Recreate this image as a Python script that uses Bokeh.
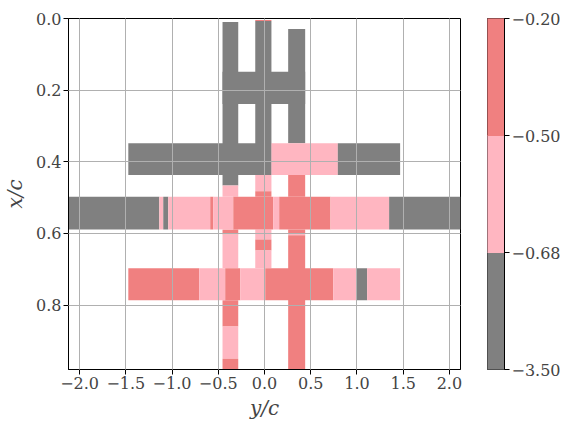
import numpy as np
from bokeh.plotting import figure
from bokeh.layouts import row
from bokeh.models import ColumnDataSource, Range1d, FixedTicker, LinearColorMapper
from bokeh.embed import file_html
from bokeh.resources import INLINE

# colour levels (bin edges) and their labels
levels = [-3.50, -0.68, -0.50, -0.20]
level_labels = ["\u22123.50", "\u22120.68", "\u22120.50", "\u22120.20"]
level_colors = ["#808080", "#ffb6c1", "#f08080"]

# representative values of the three bands
G, P, R = -1.20, -0.60, -0.35

# tick values / labels
xticks = [-2.0, -1.5, -1.0, -0.5, 0.0, 0.5, 1.0, 1.5, 2.0]
xtick_labels = ["\u22122.0", "\u22121.5", "\u22121.0", "\u22120.5", "0.0", "0.5", "1.0", "1.5", "2.0"]
yticks = [0.0, 0.2, 0.4, 0.6, 0.8]
ytick_labels = ["0.0", "0.2", "0.4", "0.6", "0.8"]

# horizontal strips: x/c extent, y/c edges, values
cross_xc = [0.149, 0.239]
cross_edges = [-0.454, 0.440]
cross_vals = [G]

bar1_xc = [0.348, 0.437]
bar1_edges = [-1.473, 0.075, 0.793, 1.467]
bar1_vals = [G, P, G]

bar2_xc = [0.498, 0.589]
bar2_edges = [-2.12, -1.138, -1.095, -1.041, -0.587, -0.554, -0.338, 0.094, 0.159, 0.714, 1.348, 2.12]
bar2_vals = [G, P, G, P, R, P, R, P, R, P, G]

bar3_xc = [0.697, 0.787]
bar3_edges = [-1.473, -0.706, -0.425, -0.262, 0.008, 0.743, 0.995, 1.110, 1.467]
bar3_vals = [R, P, R, P, R, P, G, P]

# vertical strips: y/c extent, x/c edges, values
colA_yc = [-0.454, -0.284]
colA_top_edges = [0.010, 0.466, 0.498]
colA_top_vals = [G, P]
colA_mid_edges = [0.589, 0.603, 0.697]
colA_mid_vals = [R, P]
colA_low_edges = [0.787, 0.860, 0.950, 0.98]
colA_low_vals = [R, P, R]

colB_yc = [-0.100, 0.075]
colB_top_edges = [0.004, 0.007, 0.437, 0.482, 0.498]
colB_top_vals = [R, G, P, R]
colB_mid_edges = [0.589, 0.617, 0.648, 0.697]
colB_mid_vals = [P, R, P]

colC_yc = [0.256, 0.440]
colC_top_edges = [0.029, 0.348]
colC_top_vals = [G]
colC_mid_edges = [0.437, 0.498]
colC_mid_vals = [R]
colC_low_edges = [0.589, 0.601, 0.605, 0.98]
colC_low_vals = [R, P, R]

left, right, top, bottom, vals = [], [], [], [], []

def add_v(span, edges, vv):
    for i, v in enumerate(vv):
        left.append(span[0]); right.append(span[1])
        top.append(edges[i]); bottom.append(edges[i + 1]); vals.append(v)

def add_h(xc, edges, vv):
    for i, v in enumerate(vv):
        left.append(edges[i]); right.append(edges[i + 1])
        top.append(xc[0]); bottom.append(xc[1]); vals.append(v)

add_v(colA_yc, colA_top_edges, colA_top_vals)
add_v(colA_yc, colA_mid_edges, colA_mid_vals)
add_v(colA_yc, colA_low_edges, colA_low_vals)
add_v(colB_yc, colB_top_edges, colB_top_vals)
add_v(colB_yc, colB_mid_edges, colB_mid_vals)
add_v(colC_yc, colC_top_edges, colC_top_vals)
add_v(colC_yc, colC_mid_edges, colC_mid_vals)
add_v(colC_yc, colC_low_edges, colC_low_vals)
add_h(cross_xc, cross_edges, cross_vals)
add_h(bar1_xc, bar1_edges, bar1_vals)
add_h(bar2_xc, bar2_edges, bar2_vals)
add_h(bar3_xc, bar3_edges, bar3_vals)

band = np.digitize(np.array(vals), levels) - 1 + 0.5
src = ColumnDataSource(dict(left=left, right=right, top=top, bottom=bottom, val=vals, band=band))

mapper = LinearColorMapper(palette=level_colors, low=0, high=3)

FONT = "DejaVu Serif"
TICK_SIZE = "16px"

p = figure(frame_width=392, frame_height=351,
           x_range=Range1d(-2.12, 2.12), y_range=Range1d(0.98, 0.0),
           output_backend="svg", toolbar_location=None,
           min_border_left=67, min_border_top=18, min_border_right=10, min_border_bottom=5)

p.quad(left="left", right="right", top="top", bottom="bottom", source=src,
       fill_color={"field": "band", "transform": mapper}, line_color=None)

for ax in (p.xaxis[0], p.yaxis[0]):
    ax.major_label_text_font = FONT
    ax.major_label_text_font_size = TICK_SIZE
    ax.axis_label_text_font = FONT
    ax.axis_label_text_font_size = "20px"
    ax.axis_label_text_font_style = "italic"
    ax.major_tick_in = 0
    ax.major_tick_out = 5
    ax.minor_tick_line_color = None
    ax.major_label_standoff = 2
    ax.axis_line_color = "black"

p.xaxis.ticker = FixedTicker(ticks=xticks)
p.xaxis.major_label_overrides = dict(zip(xticks, xtick_labels))
p.yaxis.ticker = FixedTicker(ticks=yticks)
p.yaxis.major_label_overrides = dict(zip(yticks, ytick_labels))
p.xaxis.axis_label = "y/c"
p.yaxis.axis_label = "x/c"
p.xaxis.axis_label_standoff = 4
p.yaxis.axis_label_standoff = 6

p.grid.grid_line_color = "#b0b0b0"
p.grid.grid_line_width = 1
p.grid.level = "overlay"
p.outline_line_color = "black"
p.outline_line_width = 1

# colour bar as its own small figure
cb_src = ColumnDataSource(dict(bottom=[0, 1, 2], top=[1, 2, 3], color=level_colors))
cb = figure(frame_width=17, frame_height=351,
            x_range=Range1d(0, 1), y_range=Range1d(0, 3),
            x_axis_location=None, y_axis_location="right",
            output_backend="svg", toolbar_location=None,
            min_border_left=17, min_border_top=18, min_border_right=5, min_border_bottom=14)
cb.quad(left=0, right=1, bottom="bottom", top="top", color="color", source=cb_src)
cb.grid.visible = False
cb.outline_line_color = "black"
cb.outline_line_width = 1
ax = cb.yaxis[0]
ax.ticker = FixedTicker(ticks=[0, 1, 2, 3])
ax.major_label_overrides = {i: t for i, t in enumerate(level_labels)}
ax.major_label_text_font = FONT
ax.major_label_text_font_size = TICK_SIZE
ax.major_tick_in = 0
ax.major_tick_out = 5
ax.minor_tick_line_color = None
ax.major_label_standoff = 2
ax.axis_line_color = "black"

layout = row(p, cb)
open("out.html", "w").write(file_html(layout, INLINE))
